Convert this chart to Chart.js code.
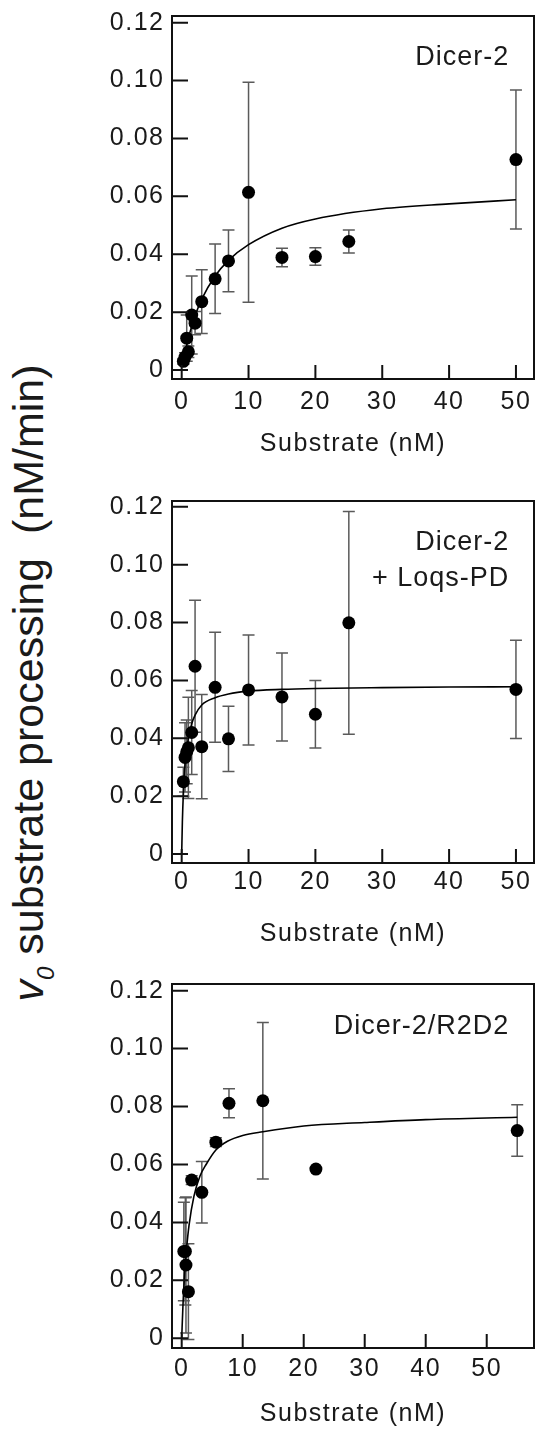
<!DOCTYPE html>
<html lang="en">
<head>
    <meta charset="UTF-8">
    <title>Dicer-2 substrate processing</title>
    <script src="https://cdn.jsdelivr.net/npm/chart.js"></script>
    <style>
        body { margin: 0; background: #fff; overflow: hidden; }
        .wrap { position: relative; width: 537px; height: 1435px; }
        .wrap canvas { position: absolute; left: 90px; }
        #ytitle {
            position: absolute;
            left: -321px;
            top: 658px;
            width: 700px;
            height: 50px;
            line-height: 50px;
            text-align: center;
            white-space: pre;
            font: 43px "Liberation Sans", Arial, Helvetica, sans-serif;
            color: #1a1a1a;
            transform: rotate(-90deg);
        }
        #ytitle sub { font-size: 24px; vertical-align: -11px; line-height: 0; }
    </style>
</head>
<body>
<div class="wrap">
    <div id="ytitle"><i>v</i><sub><i>0</i></sub> substrate processing  (nM/min)</div>
    <canvas id="dcr2" width="447" height="470" style="top:0"></canvas>
    <canvas id="loqs" width="447" height="475" style="top:480px"></canvas>
    <canvas id="r2d2" width="447" height="475" style="top:960px"></canvas>
</div>
<script>
    // axis ticks (same for every panel)
    const xTicks = [0, 10, 20, 30, 40, 50];
    const yTicks = [0, 0.02, 0.04, 0.06, 0.08, 0.10, 0.12];
    const yTickLabels = ['0', '0.02', '0.04', '0.06', '0.08', '0.10', '0.12'];

    // Dicer-2
    const dcrX   = [0.25, 0.5, 0.75, 1, 1.5, 2, 3, 5, 7, 10, 15, 20, 25, 50];
    const dcrV   = [0.003, 0.0045, 0.011, 0.0063, 0.019, 0.0162, 0.0236, 0.0315, 0.0377, 0.0614, 0.0389, 0.0392, 0.0444, 0.0727];
    const dcrErr = [0.001, 0.0015, 0.008, 0.002, 0.0135, 0.004, 0.011, 0.012, 0.0107, 0.038, 0.0032, 0.003, 0.004, 0.024];
    const dcrFitX = [0.2, 0.5, 1, 1.5, 2, 3, 5, 7, 10, 15, 20, 30, 40, 50];
    const dcrFitV = [0.0026, 0.006, 0.011, 0.0151, 0.0187, 0.0245, 0.0325, 0.0379, 0.0433, 0.049, 0.0522, 0.0557, 0.0574, 0.0588];

    // Dicer-2 + Loqs-PD
    const loqsX   = [0.25, 0.5, 0.75, 1, 1.5, 2, 3, 5, 7, 10, 15, 20, 25, 50];
    const loqsV   = [0.025, 0.0334, 0.0353, 0.0367, 0.042, 0.0649, 0.0371, 0.0576, 0.0398, 0.0567, 0.0543, 0.0483, 0.0799, 0.0569];
    const loqsErr = [0.005, 0.012, 0.011, 0.0175, 0.0145, 0.0228, 0.018, 0.019, 0.0113, 0.019, 0.0152, 0.0117, 0.0385, 0.017];
    const loqsFitX = [0, 0.1, 0.25, 0.5, 0.75, 1, 1.5, 2, 3, 5, 7, 10, 15, 20, 30, 40, 50];
    const loqsFitV = [0, 0.011, 0.021, 0.031, 0.036, 0.04, 0.045, 0.048, 0.0515, 0.054, 0.0553, 0.0563, 0.0569, 0.0572, 0.0575, 0.0577, 0.0578];

    // Dicer-2/R2D2
    const r2X   = [0.35, 0.6, 0.7, 1.1, 1.64, 3.3, 5.6, 7.75, 13.3, 22, 55];
    const r2V   = [0.03, 0.03, 0.0253, 0.0161, 0.0546, 0.0504, 0.0677, 0.0811, 0.082, 0.0584, 0.0717];
    const r2Err = [0.017, 0.0185, 0.0235, 0.0165, 0.0015, 0.0106, 0.0015, 0.005, 0.027, 0.0005, 0.0089];
    const r2FitX = [0, 0.2, 0.5, 0.8, 1.2, 2, 3, 4, 5.6, 7.5, 10, 13.3, 20, 30, 40, 55];
    const r2FitV = [0, 0.011, 0.023, 0.031, 0.039, 0.049, 0.056, 0.06, 0.065, 0.068, 0.07, 0.0713, 0.0733, 0.0745, 0.0755, 0.0763];

    Chart.defaults.font.family = '"Liberation Sans", Arial, Helvetica, sans-serif';
    Chart.defaults.font.size = 25;
    Chart.defaults.color = '#1a1a1a';

    function toPoints(xs, ys, es) {
        return xs.map((x, i) => ({ x: x, y: ys[i], e: es ? es[i] : 0 }));
    }

    // box, inward ticks, error bars and the panel label
    const panelDecor = {
        id: 'panelDecor',
        beforeDraw(chart) {
            chart.ctx.letterSpacing = '1.5px';
        },
        beforeDatasetsDraw(chart) {
            const { ctx, scales: { x, y } } = chart;
            ctx.save();
            ctx.strokeStyle = '#5a5a5a';
            ctx.lineWidth = 1.5;
            chart.data.datasets[0].data.forEach(p => {
                if (!p.e) return;
                const px = x.getPixelForValue(p.x);
                const top = y.getPixelForValue(p.y + p.e);
                const bot = y.getPixelForValue(p.y - p.e);
                ctx.beginPath();
                ctx.moveTo(px, top); ctx.lineTo(px, bot);
                ctx.moveTo(px - 6, top); ctx.lineTo(px + 6, top);
                ctx.moveTo(px - 6, bot); ctx.lineTo(px + 6, bot);
                ctx.stroke();
            });
            ctx.restore();
        },
        afterDraw(chart, args, opts) {
            const { ctx, chartArea: a, scales: { x, y } } = chart;
            ctx.save();
            ctx.strokeStyle = '#111';
            ctx.lineWidth = 2;
            ctx.strokeRect(a.left, a.top, a.right - a.left, a.bottom - a.top);
            ctx.beginPath();
            x.ticks.forEach(t => {
                const px = x.getPixelForValue(t.value);
                ctx.moveTo(px, a.bottom);
                ctx.lineTo(px, a.bottom - 14);
            });
            y.ticks.forEach(t => {
                const py = y.getPixelForValue(t.value);
                ctx.moveTo(a.left, py);
                ctx.lineTo(a.left + 16, py);
            });
            ctx.stroke();

            ctx.letterSpacing = '1px';
            ctx.font = '27px "Liberation Sans", Arial, Helvetica, sans-serif';
            ctx.fillStyle = '#1a1a1a';
            ctx.textAlign = 'right';
            ctx.textBaseline = 'alphabetic';
            opts.lines.forEach((s, i) => ctx.fillText(s, a.right - 24.7, a.top + opts.baselines[i]));
            ctx.restore();
        }
    };

    function drawPanel(id, p) {
        new Chart(document.getElementById(id), {
            type: 'scatter',
            data: {
                datasets: [{
                    data: p.points,
                    backgroundColor: '#000',
                    borderWidth: 0,
                    pointRadius: 6.5,
                    pointHoverRadius: 6.5
                }, {
                    data: p.fit,
                    showLine: true,
                    borderColor: '#000',
                    borderWidth: 1.6,
                    pointRadius: 0,
                    cubicInterpolationMode: 'monotone'
                }]
            },
            options: {
                responsive: false,
                animation: false,
                events: [],
                layout: { autoPadding: false, padding: { top: p.top, right: 3, bottom: 0, left: 0 } },
                plugins: {
                    legend: { display: false },
                    tooltip: { enabled: false },
                    panelDecor: { lines: p.lines, baselines: p.baselines }
                },
                scales: {
                    x: {
                        type: 'linear',
                        min: p.xMin,
                        max: p.xMax,
                        grid: { display: false, drawTicks: false },
                        border: { display: false },
                        afterBuildTicks: s => { s.ticks = xTicks.map(v => ({ value: v })); },
                        afterFit: s => { s.height = p.xAxisH; s.paddingLeft = 0; s.paddingRight = 0; },
                        ticks: { padding: p.xTickPad, maxRotation: 0, autoSkip: false },
                        title: { display: true, text: 'Substrate (nM)', padding: { top: 0, bottom: p.titlePad } }
                    },
                    y: {
                        type: 'linear',
                        min: p.yMin,
                        max: p.yMax,
                        grid: { display: false, drawTicks: false },
                        border: { display: false },
                        afterBuildTicks: s => { s.ticks = yTicks.map(v => ({ value: v })); },
                        afterFit: s => { s.width = 82; s.paddingTop = 0; s.paddingBottom = 0; },
                        ticks: { padding: 7.5, autoSkip: false, callback: (v, i) => yTickLabels[i] }
                    }
                }
            },
            plugins: [panelDecor]
        });
    }

    drawPanel('dcr2', {
        points: toPoints(dcrX, dcrV, dcrErr),
        fit: toPoints(dcrFitX, dcrFitV),
        xMin: -1.45, xMax: 52.7, yMin: -0.0031, yMax: 0.1223,
        top: 16, xAxisH: 91, xTickPad: 8, titlePad: 10.4,
        lines: ['Dicer-2'], baselines: [49]
    });

    drawPanel('loqs', {
        points: toPoints(loqsX, loqsV, loqsErr),
        fit: toPoints(loqsFitX, loqsFitV),
        xMin: -1.45, xMax: 52.7, yMin: -0.0031, yMax: 0.122,
        top: 21, xAxisH: 92, xTickPad: 4, titlePad: 6,
        lines: ['Dicer-2', '+ Loqs-PD'], baselines: [48.5, 84.5]
    });

    drawPanel('r2d2', {
        points: toPoints(r2X, r2V, r2Err),
        fit: toPoints(r2FitX, r2FitV),
        xMin: -1.59, xMax: 57.75, yMin: -0.00335, yMax: 0.1223,
        top: 24, xAxisH: 87, xTickPad: 6.3, titlePad: 6,
        lines: ['Dicer-2/R2D2'], baselines: [49.5]
    });
</script>
</body>
</html>
